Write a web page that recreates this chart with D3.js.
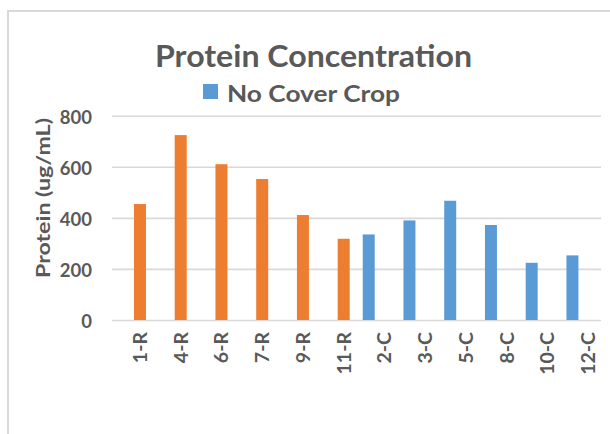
<!DOCTYPE html>
<html><head><meta charset="utf-8">
<script src="https://cdn.jsdelivr.net/npm/d3@7"></script>
<style>html,body{margin:0;padding:0;background:#fff;overflow:hidden}</style>
</head><body>
<svg id="c" width="610" height="434"></svg>
<script>
// ---- data ----
const categories = ["1-R","4-R","6-R","7-R","9-R","11-R","2-C","3-C","5-C","8-C","10-C","12-C"];
const coverCrop   = [454, 724, 610, 552, 411, 318, null, null, null, null, null, null];
const noCoverCrop = [null, null, null, null, null, null, 335, 390, 467, 372, 224, 253];
const yTicks = [0, 200, 400, 600, 800];
const titleText = "Protein Concentration";
const legendLabel = "No Cover Crop";
const yAxisLabel = "Protein (ug/mL)";

// ---- styles ----
const FONT = "Lato, 'Open Sans', sans-serif";
const TXT = "#595959";
const GRID = "#d9d9d9";
const ORANGE = "#ED7D31", BLUE = "#5B9BD5";

const svg = d3.select("#c");

function squeeze(sel, target){
  sel.attr("textLength", target).attr("lengthAdjust", "spacingAndGlyphs");
}

// border
svg.append("rect").attr("x", 8).attr("y", 11).attr("width", 640).attr("height", 460)
  .attr("fill", "none").attr("stroke", GRID).attr("stroke-width", 2);

// scales
const plotL = 112, plotR = 601;
const y = d3.scaleLinear().domain([0, 800]).range([320, 115.7]);
const x = d3.scaleBand().domain(categories).range([119.6, 608.5]).padding(0);
const barW = 12;
const blueShift = -15.7;

// gridlines
const yAxis = d3.axisLeft(y).tickValues(yTicks).tickSize(-(plotR - plotL)).tickPadding(20).tickFormat(d3.format("d"));
const ga = svg.append("g").attr("transform", `translate(${plotL},0)`).call(yAxis);
ga.select(".domain").remove();
ga.selectAll(".tick line").attr("stroke", GRID).attr("stroke-width", 1.6);
ga.selectAll(".tick text").attr("fill", TXT).attr("font-family", FONT).attr("font-weight", "bold")
  .attr("font-size", 18.5).attr("x", -20).attr("dy", "0.42em");

// bars
const cx = d => x(d) + x.bandwidth() / 2;
svg.append("g").selectAll("rect").data(categories.map((c, i) => ({c, v: coverCrop[i]})).filter(d => d.v != null))
  .join("rect").attr("x", d => cx(d.c) - barW/2).attr("width", barW)
  .attr("y", d => y(d.v)).attr("height", d => y(0) - y(d.v)).attr("fill", ORANGE);
svg.append("g").selectAll("rect").data(categories.map((c, i) => ({c, v: noCoverCrop[i]})).filter(d => d.v != null))
  .join("rect").attr("x", d => cx(d.c) + blueShift - barW/2).attr("width", barW)
  .attr("y", d => y(d.v)).attr("height", d => y(0) - y(d.v)).attr("fill", BLUE);

// x labels
const xAxis = d3.axisBottom(x).tickSize(0).tickPadding(0);
const gx = svg.append("g").attr("transform", "translate(0,320)").call(xAxis);
gx.select(".domain").remove();
gx.selectAll(".tick text").attr("fill", TXT).attr("font-family", FONT).attr("font-weight", "bold")
  .attr("font-size", 19.5).attr("text-anchor", "end").attr("transform", "rotate(-90)")
  .attr("x", -12).attr("y", 0).attr("dy", "0.36em");

// title
const t = svg.append("text").attr("x", 313.5).attr("y", 66.5).attr("text-anchor", "middle")
  .attr("fill", TXT).attr("font-family", FONT).attr("font-weight", "bold").attr("font-size", 30).text(titleText);
squeeze(t, 317);

// legend
svg.append("rect").attr("x", 203).attr("y", 84).attr("width", 15).attr("height", 15).attr("fill", BLUE);
const lt = svg.append("text").attr("x", 227).attr("y", 101.5).attr("fill", TXT).attr("font-family", FONT)
  .attr("font-weight", "bold").attr("font-size", 23).text(legendLabel);
squeeze(lt, 173);

// y axis title
const yt = svg.append("text").attr("transform", "translate(49.5,198) rotate(-90)").attr("text-anchor", "middle")
  .attr("fill", TXT).attr("font-family", FONT).attr("font-weight", "bold").attr("font-size", 19).text(yAxisLabel);
squeeze(yt, 160);
</script>
</body></html>
